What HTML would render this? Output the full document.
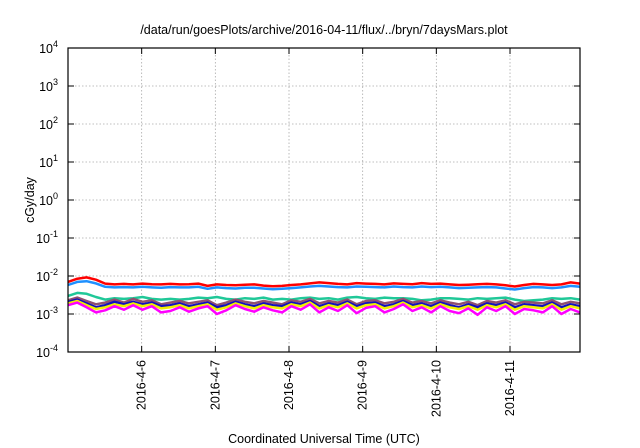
<!DOCTYPE html>
<html><head><meta charset="utf-8"><style>
body{margin:0;background:#fff;}
svg{display:block;font-family:"Liberation Sans",sans-serif;}
</style></head><body>
<svg id="chart" width="640" height="448" viewBox="0 0 640 448">
<text x="324" y="34" font-size="12.5" text-anchor="middle">/data/run/goesPlots/archive/2016-04-11/flux/../bryn/7daysMars.plot</text>
<g id="grid"></g><g id="series"></g><g id="axes"></g>
<text transform="translate(34,200) rotate(-90)" font-size="12.5" text-anchor="middle">cGy/day</text>
<text x="324" y="443" font-size="12.5" text-anchor="middle">Coordinated Universal Time (UTC)</text>
</svg>
<script>
const xTickLabels=["2016-4-6","2016-4-7","2016-4-8","2016-4-9","2016-4-10","2016-4-11"];
const xTickDays=[1,2,3,4,5,6];
const yExponents=[4,3,2,1,0,-1,-2,-3,-4];
const seriesColors=["#ff0000","#1e90ff","#20c898","#905070","#1010c0","#f0f000","#ff00ff"];
// values in units of 1e-3 cGy/day, every ~3 hours
const red=[7.0,8.5,9.2,8.0,6.3,6.0,6.2,6.0,6.3,6.1,6.0,6.2,6.0,6.1,6.3,5.5,6.0,5.8,5.7,5.9,6.0,5.6,5.4,5.5,5.8,6.0,6.4,6.8,6.5,6.2,6.0,6.5,6.3,6.2,6.0,6.4,6.2,6.1,6.5,6.2,6.3,6.0,5.8,5.9,6.1,6.2,6.0,5.7,5.3,5.8,6.2,6.0,5.8,6.0,6.8,6.3];
const blue=[5.8,7.0,7.3,6.4,5.2,5.0,5.1,5.0,5.2,5.0,4.9,5.1,5.0,5.0,5.2,4.6,5.0,4.8,4.7,4.9,4.9,4.7,4.5,4.6,4.8,5.0,5.3,5.5,5.3,5.1,5.0,5.3,5.2,5.1,5.0,5.3,5.1,5.0,5.3,5.1,5.2,5.0,4.8,4.9,5.0,5.1,5.0,4.7,4.4,4.8,5.1,5.0,4.8,5.0,5.5,5.2];
const green=[3.0,3.6,3.4,2.8,2.4,2.6,2.5,2.6,2.8,2.5,2.4,2.5,2.4,2.5,2.7,2.6,2.8,2.5,2.4,2.6,2.5,2.7,2.4,2.5,2.4,2.6,2.7,2.5,2.6,2.4,2.7,2.8,2.6,2.5,2.7,2.6,2.6,2.5,2.3,2.4,2.6,2.6,2.5,2.4,2.6,2.5,2.6,2.7,2.4,2.2,2.3,2.4,2.6,2.5,2.6,2.4];
const purple=[2.3,2.7,2.2,1.8,2.0,2.4,2.0,2.5,2.1,2.3,1.8,2.0,2.2,1.9,2.1,2.3,1.7,2.0,2.4,2.1,1.9,2.2,2.0,1.8,2.3,2.1,2.5,1.9,2.2,2.0,2.4,1.8,2.2,2.3,1.9,2.1,2.5,2.0,2.2,1.9,2.3,2.0,1.8,2.1,1.7,2.2,2.0,2.3,1.8,2.1,2.0,1.9,2.3,1.8,2.1,1.9];
const navy=[2.1,2.4,1.9,1.5,1.7,2.1,1.8,2.1,1.8,2.0,1.6,1.7,1.9,1.6,1.8,2.0,1.5,1.7,2.1,1.8,1.6,1.9,1.7,1.6,2.0,1.8,2.2,1.6,1.9,1.7,2.1,1.6,1.9,2.0,1.6,1.8,2.2,1.7,1.9,1.6,2.0,1.7,1.5,1.8,1.5,1.9,1.7,2.0,1.5,1.8,1.7,1.6,2.0,1.5,1.8,1.6];
const yellow=[1.9,2.2,1.7,1.35,1.5,1.8,1.6,1.9,1.6,1.8,1.4,1.5,1.7,1.4,1.6,1.8,1.3,1.5,1.9,1.6,1.4,1.7,1.5,1.4,1.8,1.6,2.0,1.4,1.7,1.5,1.9,1.4,1.7,1.8,1.4,1.6,2.0,1.5,1.7,1.4,1.8,1.5,1.35,1.6,1.3,1.7,1.5,1.8,1.3,1.6,1.5,1.4,1.8,1.3,1.6,1.4];
const magenta=[1.7,2.0,1.5,1.1,1.25,1.6,1.3,1.7,1.3,1.6,1.1,1.2,1.5,1.15,1.4,1.6,1.0,1.25,1.7,1.35,1.15,1.5,1.25,1.1,1.6,1.3,1.8,1.1,1.5,1.2,1.7,1.05,1.45,1.6,1.1,1.35,1.8,1.2,1.5,1.1,1.6,1.2,1.05,1.4,0.95,1.5,1.2,1.6,1.0,1.35,1.25,1.1,1.6,1.0,1.35,1.1];
const allSeries=[red,blue,green,purple,navy,yellow,magenta];
const L=68,R=580,T=48,B=352,DAYS=6.95;
const NS="http://www.w3.org/2000/svg";
function xs(d){return L+(d/DAYS)*(R-L);}
function ys(v){const lg=Math.log10(v);return T+(4-lg)/8*(B-T);}
function mk(tag,attrs,parent){const e=document.createElementNS(NS,tag);for(const k in attrs)e.setAttribute(k,attrs[k]);parent.appendChild(e);return e;}
const grid=document.getElementById('grid'),axes=document.getElementById('axes'),ser=document.getElementById('series');
yExponents.forEach(ex=>{
  const y=ys(Math.pow(10,ex));
  if(ex<4&&ex>-4){const g=mk('line',{x1:L,x2:R,y1:y,y2:y,stroke:'#aaa','stroke-width':0.8,'stroke-dasharray':'1.5,2'},grid);
  
  }
  mk('line',{x1:L,x2:L+6,y1:y,y2:y,stroke:'#000'},axes);
  mk('line',{x1:R,x2:R-6,y1:y,y2:y,stroke:'#000'},axes);
  const t=mk('text',{x:L-10,y:y+5,'font-size':12.5,'text-anchor':'end'},axes);
  
  
  t.textContent='10';
  const s=mk('tspan',{dy:-6,'font-size':9},t);s.textContent=String(ex);
});
xTickDays.forEach((d,i)=>{
  const x=xs(d);
  const g=mk('line',{x1:x,x2:x,y1:T,y2:B,stroke:'#aaa','stroke-width':0.8,'stroke-dasharray':'1.5,2'},grid);
  
  
  mk('line',{x1:x,x2:x,y1:B,y2:B-6,stroke:'#000'},axes);
  mk('line',{x1:x,x2:x,y1:T,y2:T+6,stroke:'#000'},axes);
  const t=mk('text',{transform:`translate(${x+4},${B+8}) rotate(-90)`,'font-size':12.5,'text-anchor':'end'},axes);
  
  
  t.textContent=xTickLabels[i];
});
const fr=mk('rect',{x:L,y:T,width:R-L,height:B-T,fill:'none',stroke:'#000','stroke-width':1.2},axes);


allSeries.forEach((arr,si)=>{
  const n=arr.length;
  const pts=arr.map((v,i)=>xs(i*DAYS/(n-1)).toFixed(1)+','+ys(v/1000).toFixed(1)).join(' ');
  const p=mk('polyline',{points:pts,fill:'none',stroke:seriesColors[si],'stroke-width':2.5,'stroke-linejoin':'round'},ser);
  
  
});
</script>
</body></html>
